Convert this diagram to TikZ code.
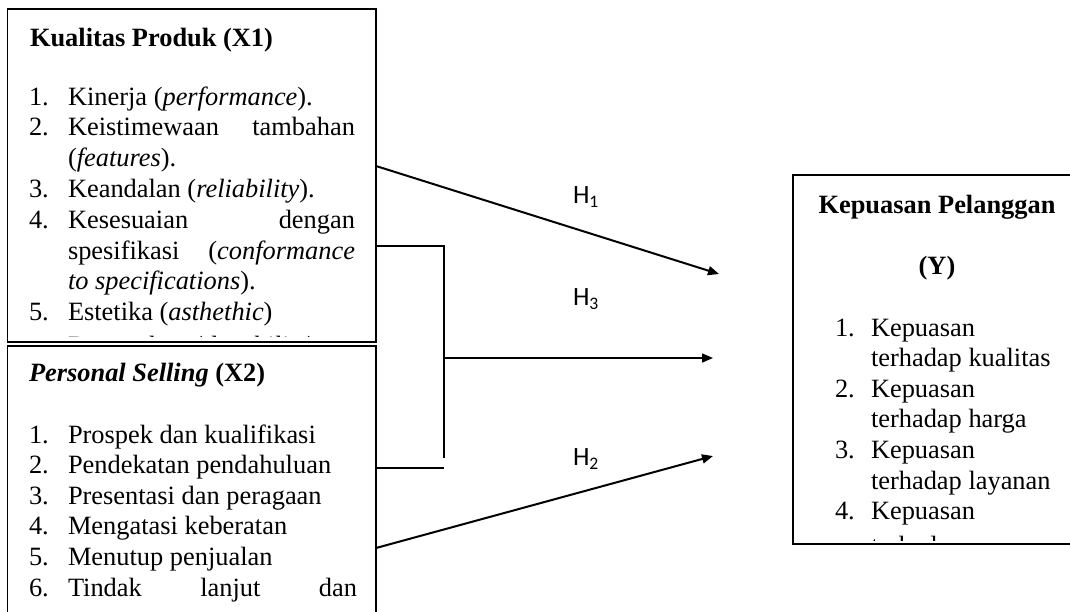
\documentclass[tikz,border=0pt]{standalone}
\usepackage{fontspec}
\setmainfont{Liberation Serif}
\newfontfamily\calib{Carlito}
\usetikzlibrary{arrows.meta}
\tikzset{
 txt/.style={anchor=base west, inner sep=0pt, outer sep=0pt, font=\fontsize{26.4}{30.6}\selectfont},
 ctxt/.style={txt, anchor=base},
 hlab/.style={anchor=base west, inner sep=0pt, outer sep=0pt, font=\calib\fontsize{26.4}{30}\selectfont},
 varbox/.style={draw=black, line width=1.3pt, inner sep=0pt, outer sep=0pt, anchor=north west},
 conn/.style={line width=2pt, -{Triangle[length=11pt,width=9pt]}},
 connh/.style={line width=1.5pt, -{Triangle[length=11pt,width=9pt]}},
 brk/.style={line width=1.3pt},
}
\newcommand\hsub[1]{\raisebox{-4pt}{\fontsize{17.6}{18}\selectfont #1}}
\begin{document}
\begin{tikzpicture}[x=1pt,y=-1pt]
\clip (0,0) rectangle (1070,611);
\fill[white] (0,0) rectangle (1070,611);

% ---- X1 text
\node[txt] (x1title) at (30,46) {\textbf{Kualitas Produk (X1)}};
\node[txt] (a1n) at (29,105) {1.};
\node[txt] (a1t) at (68,105) {Kinerja (\textit{performance}).};
\node[txt] (a2n) at (29,135.8) {2.};
\node[txt] (a2t) at (68,135.8) {\makebox[287pt][s]{Keistimewaan tambahan}};
\node[txt] (a2u) at (68,166.6) {(\textit{features}).};
\node[txt] (a3n) at (29,197.4) {3.};
\node[txt] (a3t) at (68,197.4) {Keandalan (\textit{reliability}).};
\node[txt] (a4n) at (29,228.2) {4.};
\node[txt] (a4t) at (68,228.2) {\makebox[287pt][s]{Kesesuaian dengan}};
\node[txt] (a4u) at (68,259) {\makebox[287pt][s]{spesifikasi (\textit{conformance}}};
\node[txt] (a4v) at (68,289.8) {\textit{to specifications}).};
\node[txt] (a5n) at (29,320.6) {5.};
\node[txt] (a5t) at (68,320.6) {Estetika (\textit{asthethic})};
\begin{scope}
\clip (8,10) rectangle (375,336);
\node[txt] (a6t) at (68,354) {Daya tahan (\textit{durability})};
\end{scope}

% ---- X2 text
\node[txt] (x2title) at (29,381) {\textbf{\textit{Personal Selling}} \textbf{(X2)}};
\node[txt] (b1n) at (29,443) {1.};
\node[txt] (b1t) at (68,443) {Prospek dan kualifikasi};
\node[txt] (b2n) at (29,473.6) {2.};
\node[txt] (b2t) at (68,473.6) {Pendekatan pendahuluan};
\node[txt] (b3n) at (29,504.2) {3.};
\node[txt] (b3t) at (68,504.2) {Presentasi dan peragaan};
\node[txt] (b4n) at (29,534.8) {4.};
\node[txt] (b4t) at (68,534.8) {Mengatasi keberatan};
\node[txt] (b5n) at (29,565.4) {5.};
\node[txt] (b5t) at (68,565.4) {Menutup penjualan};
\node[txt] (b6n) at (29,596) {6.};
\node[txt] (b6t) at (68,596) {\makebox[289pt][s]{Tindak lanjut dan}};

% ---- Y text
\node[ctxt] (ytitle) at (937,213) {\textbf{Kepuasan Pelanggan}};
\node[ctxt] (ysym) at (937,274) {\textbf{(Y)}};
\node[txt] (c1n) at (835,336) {1.};
\node[txt] (c1t) at (871,336) {Kepuasan};
\node[txt] (c1u) at (871,366.6) {terhadap kualitas};
\node[txt] (c2n) at (835,397.2) {2.};
\node[txt] (c2t) at (871,397.2) {Kepuasan};
\node[txt] (c2u) at (871,427.8) {terhadap harga};
\node[txt] (c3n) at (835,458.4) {3.};
\node[txt] (c3t) at (871,458.4) {Kepuasan};
\node[txt] (c3u) at (871,489) {terhadap layanan};
\node[txt] (c4n) at (835,519.6) {4.};
\node[txt] (c4t) at (871,519.6) {Kepuasan};
\begin{scope}
\clip (794,176) rectangle (1070,540);
\node[txt] (c4u) at (871,554) {terhadap};
\end{scope}

% ---- boxes
\node[varbox, minimum width=368.5pt, minimum height=333pt] (x1) at (7.5,9) {};
\node[varbox, minimum width=368.5pt, minimum height=300pt] (x2) at (7.5,346) {};
\node[varbox, minimum width=300pt, minimum height=369pt] (y) at (793,175) {};

% ---- connector points
\coordinate (h1s) at ([yshift=-157pt]x1.north east);
\coordinate (h1e) at (719,274);
\coordinate (k1) at ([yshift=-237pt]x1.north east);
\coordinate (k2) at (444,458);
\coordinate (k3) at ([yshift=-122pt]x2.north east);
\coordinate (k4) at (444,468);
\coordinate (h3s) at (444,358);
\coordinate (h3e) at (713,358);
\coordinate (h2s) at ([yshift=-202pt]x2.north east);
\coordinate (h2e) at (713,456);

\draw[conn] (h1s) -- (h1e);
\draw[brk] (k1) -| (k2);
\draw[brk] (k3) -- (k4);
\draw[connh] (h3s) -- (h3e);
\draw[conn] (h2s) -- (h2e);

% ---- labels
\node[hlab] (lh1) at (573,203) {H\hsub{1}};
\node[hlab] (lh3) at (573,305) {H\hsub{3}};
\node[hlab] (lh2) at (573,465) {H\hsub{2}};
\end{tikzpicture}
\end{document}
